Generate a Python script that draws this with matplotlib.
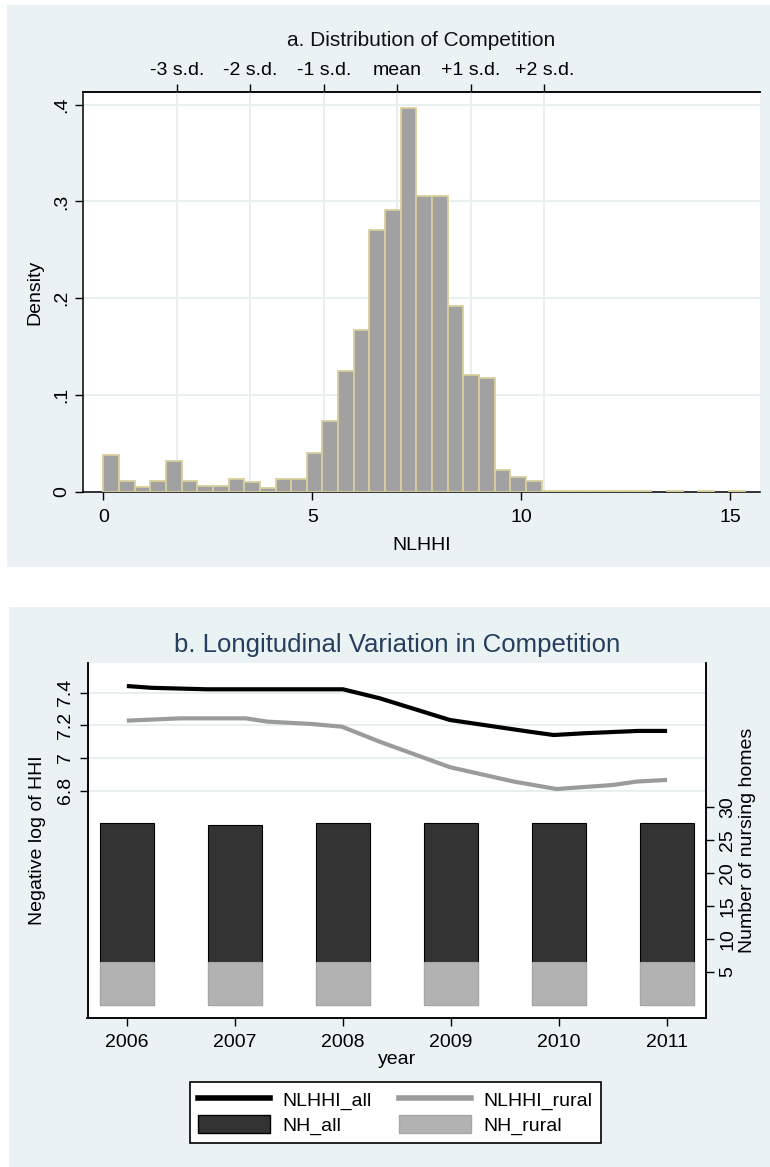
import numpy as np
import matplotlib
matplotlib.use("Agg")
import matplotlib.pyplot as plt
from matplotlib.patches import Rectangle, Patch
from matplotlib.lines import Line2D

plt.rcParams['font.family'] = ['Liberation Sans', 'DejaVu Sans']

# ---------------- data: panel a ----------------
bin_width = 0.3745
densities = [0.0386, 0.0117, 0.0052, 0.0114, 0.0320, 0.0114, 0.0065, 0.0065,
             0.0134, 0.0100, 0.0041, 0.0131, 0.0131, 0.0403, 0.0730, 0.1246,
             0.1670, 0.2710, 0.2916, 0.3960, 0.3060, 0.3060, 0.1917, 0.1210,
             0.1177, 0.0230, 0.0150, 0.0117, 0.0012, 0.0012, 0.0012, 0.0012,
             0.0012, 0.0012, 0.0012, 0.0, 0.0012, 0.0, 0.0012, 0.0, 0.0012]
nlhhi_mean = 7.034
nlhhi_sd = 1.758
sd_steps = [-3, -2, -1, 0, 1, 2]
sd_labels = ['-3 s.d.', '-2 s.d.', '-1 s.d.', 'mean', '+1 s.d.', '+2 s.d.']
density_ticks = [0, 0.1, 0.2, 0.3, 0.4]
density_ticklabels = ['0', '.1', '.2', '.3', '.4']
nlhhi_ticks = [0, 5, 10, 15]

# ---------------- data: panel b ----------------
years = [2006, 2007, 2008, 2009, 2010, 2011]
nh_all = [27.5, 27.2, 27.5, 27.5, 27.5, 27.5]
nh_rural = [6.5, 6.5, 6.5, 6.5, 6.5, 6.5]
all_x = [2006.0, 2006.23, 2006.74, 2008.0, 2008.34, 2008.99, 2009.73, 2009.95,
         2010.24, 2010.73, 2011.0]
nlhhi_all = [7.441, 7.430, 7.421, 7.421, 7.366, 7.233, 7.161, 7.141,
             7.152, 7.166, 7.166]
rural_x = [2006.0, 2006.49, 2007.1, 2007.3, 2007.7, 2007.99, 2008.34, 2008.99,
           2009.58, 2009.98, 2010.07, 2010.5, 2010.72, 2011.0]
nlhhi_rural = [7.229, 7.243, 7.243, 7.223, 7.209, 7.192, 7.100, 6.944,
               6.856, 6.810, 6.815, 6.835, 6.856, 6.866]
left_ticks = [6.8, 7.0, 7.2, 7.4]
left_ticklabels = ['6.8', '7', '7.2', '7.4']
right_ticks = [5, 10, 15, 20, 25, 30]

# ---------------- figure ----------------
W, H = 770, 1167
fig = plt.figure(figsize=(W / 100, H / 100), dpi=100, facecolor='white')

BG = '#eaf2f3'
GRID = '#e6eef0'

def px_rect(x0, y0, x1, y1):
    return [x0 / W, 1 - y1 / H, (x1 - x0) / W, (y1 - y0) / H]

# panel backgrounds
for (x0, y0, x1, y1) in [(7, 5, 770, 567), (9, 607, 770, 1167)]:
    fig.patches.append(Rectangle((x0 / W, 1 - y1 / H), (x1 - x0) / W, (y1 - y0) / H,
                                 transform=fig.transFigure, facecolor=BG,
                                 edgecolor='none', zorder=-5))

FS = 14
TICKLEN = 5.5

# ---------------- panel a ----------------
ax = fig.add_axes(px_rect(83, 92, 760, 492))
ax.set_zorder(1)
ax.set_facecolor('white')
edges = np.arange(len(densities)) * bin_width
dens = np.array(densities)
mask = dens > 0
ax.bar(edges[mask], dens[mask], width=bin_width, align='edge', color='#a1a1a1',
       edgecolor='#d8cf9c', linewidth=1.3, zorder=3)
ax.set_xlim(-0.486, 15.71)
ax.set_ylim(0, 0.413)
ax.set_xticks(nlhhi_ticks)
ax.set_xticklabels([str(t) for t in nlhhi_ticks], fontsize=FS)
ax.set_yticks(density_ticks)
ax.set_yticklabels(density_ticklabels, fontsize=FS, rotation=90, va='center')
ax.tick_params(axis='both', direction='out', length=TICKLEN, width=1, color='black')
ax.tick_params(axis='x', pad=7)
ax.tick_params(axis='y', pad=4)
for y in density_ticks:
    ax.axhline(y, color=GRID, lw=1.3, zorder=0.5)
sd_pos = [nlhhi_mean + k * nlhhi_sd for k in sd_steps]
for x in sd_pos:
    ax.axvline(x, color=GRID, lw=1.3, zorder=0.5)
ax.spines['right'].set_visible(False)
for s in ['left', 'bottom', 'top']:
    ax.spines[s].set_linewidth(1.1)
    ax.spines[s].set_color('black')
axt = ax.secondary_xaxis('top')
axt.set_xticks(sd_pos)
axt.set_xticklabels(sd_labels, fontsize=FS)
axt.tick_params(direction='out', length=TICKLEN, width=1, pad=4)
axt.spines['top'].set_linewidth(1.1)
fig.text(421.5 / W, 1 - 41 / H, 'a. Distribution of Competition', fontsize=15,
         ha='center', va='center', color='#111111')
fig.text(35 / W, 1 - 292 / H, 'Density', fontsize=FS, rotation=90,
         ha='center', va='center')
fig.text(421.5 / W, 1 - 545 / H, 'NLHHI', fontsize=FS, ha='center', va='center')

# ---------------- panel b ----------------
bx = fig.add_axes(px_rect(87.5, 663, 706, 1018))
br = bx.twinx()
bx.set_zorder(2)
br.set_zorder(1)

br.bar(years, nh_all, width=0.5, color='#333333', edgecolor='black', linewidth=0.8,
       zorder=2)
br.bar(years, nh_rural, width=0.5, color='#b2b2b2', edgecolor='#a6a6a6',
       linewidth=0.8, zorder=3)
br.set_ylim(-2.02, 51.77)
br.set_yticks(right_ticks)
br.set_yticklabels([str(t) for t in right_ticks], fontsize=FS, rotation=90,
                   va='center')
br.tick_params(axis='y', direction='out', length=TICKLEN, width=1, pad=4)

bx.plot(all_x, nlhhi_all, color='black', lw=3.0, solid_capstyle='butt', zorder=4)
bx.plot(rural_x, nlhhi_rural, color='#9b9b9b', lw=3.0, solid_capstyle='butt',
        zorder=4)
bx.set_xlim(2005.636, 2011.36)
bx.set_ylim(5.408, 7.582)
bx.set_yticks(left_ticks)
bx.set_yticklabels(left_ticklabels, fontsize=FS, rotation=90, va='center')
bx.set_xticks(years)
bx.set_xticklabels([str(y) for y in years], fontsize=FS)
bx.tick_params(axis='both', direction='out', length=TICKLEN, width=1)
bx.tick_params(axis='x', pad=6)
bx.tick_params(axis='y', pad=4)

bx.patch.set_visible(False)
br.patch.set_visible(True)
br.patch.set_facecolor('white')
for a in (bx, br):
    a.spines['top'].set_visible(False)
    for s in ['left', 'right', 'bottom']:
        a.spines[s].set_linewidth(1.1)
        a.spines[s].set_color('black')

for y in left_ticks:
    br.plot([0, 1], [y, y], transform=bx.get_yaxis_transform(), color=GRID,
            lw=1.3, zorder=1)

fig.text(396.8 / W, 1 - 645 / H, 'b. Longitudinal Variation in Competition',
         fontsize=18.5, ha='center', va='center', color='#263e5e')
fig.text(38 / W, 1 - 840 / H, 'Negative log of HHI', fontsize=FS, rotation=90,
         ha='center', va='center')
fig.text(748 / W, 1 - 840 / H, 'Number of nursing homes', fontsize=FS, rotation=90,
         ha='center', va='center')
fig.text(396.8 / W, 1 - 1059 / H, 'year', fontsize=FS, ha='center', va='center')

handles = [Line2D([], [], color='black', lw=4),
           Line2D([], [], color='#9b9b9b', lw=4),
           Patch(facecolor='#333333', edgecolor='black', linewidth=1),
           Patch(facecolor='#b2b2b2', edgecolor='#a6a6a6', linewidth=1)]
labels = ['NLHHI_all', 'NLHHI_rural', 'NH_all', 'NH_rural']
order = [0, 2, 1, 3]
leg = fig.legend([handles[i] for i in order], [labels[i] for i in order],
                 ncol=2, loc='center', bbox_to_anchor=(395.5 / W, 1 - 1112.5 / H),
                 bbox_transform=fig.transFigure, fontsize=FS, frameon=True,
                 fancybox=False, edgecolor='black', facecolor='white',
                 framealpha=1, handlelength=3.7, handleheight=1.0,
                 handletextpad=0.65, columnspacing=1.4, borderpad=0.4,
                 labelspacing=0.3, borderaxespad=0)
leg.get_frame().set_linewidth(1.2)

fig.savefig('out.png', dpi=100, facecolor='white')
